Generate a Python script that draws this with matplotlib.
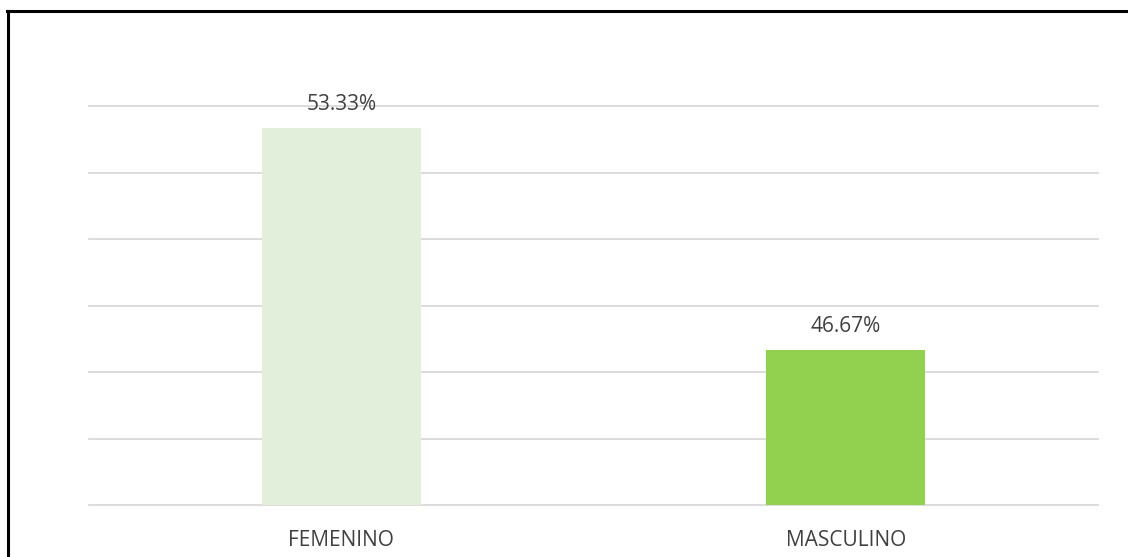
import matplotlib
matplotlib.use("Agg")
import matplotlib.pyplot as plt
from matplotlib.lines import Line2D

categories = ["FEMENINO", "MASCULINO"]
values = [53.33, 46.67]
labels = ["53.33%", "46.67%"]
colors = ["#e2efda", "#92d050"]

plt.rcParams['font.family'] = ['Open Sans', 'DejaVu Sans']

W, H = 1128, 557
fig = plt.figure(figsize=(W / 100, H / 100), dpi=100)
ax = fig.add_axes([89 / W, 1 - 505 / H, (1098 - 89) / W, (505 - 106) / H])

x = range(len(categories))
ax.bar(x, values, width=0.315, color=colors, zorder=2, bottom=0)
ax.set_ylim(42, 54)
ax.set_xlim(-0.5, 1.5)
ax.set_yticks([42, 44, 46, 48, 50, 52, 54])
ax.yaxis.grid(True, color="#d9d9d9", linewidth=1.3, zorder=0)
for gl in ax.get_ygridlines():
    gl.set_clip_on(False)
ax.set_yticklabels([])
ax.tick_params(axis='y', length=0)
ax.tick_params(axis='x', length=0, pad=18, labelsize=15, labelcolor="#404040")
ax.set_xticks(list(x))
ax.set_xticklabels(categories)
for s in ax.spines.values():
    s.set_visible(False)

for xi, v, lab in zip(x, values, labels):
    ax.annotate(lab, (xi, v), xytext=(0, 17), textcoords="offset points",
                ha="center", va="center", fontsize=15, color="#404040")

# outer frame (left and top visible)
fig.add_artist(Line2D([8 / W, 8 / W], [0, 1 - 11 / H], color="black", lw=2.2, transform=fig.transFigure))
fig.add_artist(Line2D([7 / W, 1], [1 - 11 / H, 1 - 11 / H], color="black", lw=2.2, transform=fig.transFigure))

fig.savefig("out.png", dpi=100)
